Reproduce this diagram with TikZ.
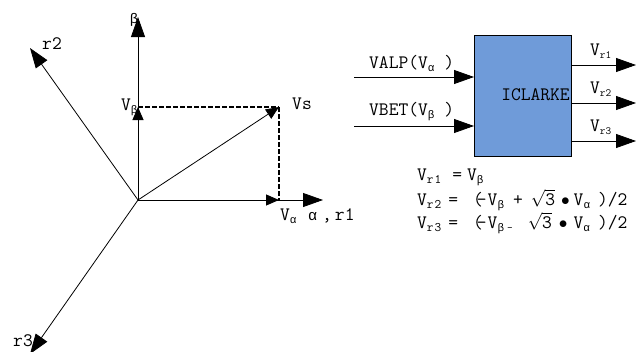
\documentclass[tikz,border=0pt]{standalone}
\usepackage{amsmath}
\usepackage{amssymb}
\usepackage{fontspec}
\newfontfamily\grkfont{Liberation Mono}
\usetikzlibrary{arrows.meta}
\definecolor{blockblue}{HTML}{6F9BD9}
\newcommand{\low}[1]{\raisebox{-3pt}{\fontsize{11}{11}\selectfont #1}}
\newcommand{\lowr}[1]{\raisebox{-3pt}{\fontsize{13}{13}\selectfont r\hspace{1pt}#1}}
\newcommand{\lowa}{\low{\grkfont α}}
\newcommand{\lowb}{\low{\grkfont β}}
\newcommand{\rootthree}{$\sqrt{\text{3}}$}
\tikzset{
  bigtip/.style={-{Triangle[length=20pt,width=14pt]},line width=.8pt},
  smalltip/.style={-{Triangle[length=13pt,width=11pt]},line width=1pt},
  dashline/.style={dash pattern=on 5pt off 2pt,line width=1.3pt},
  txt/.style={font=\ttfamily\fontsize{19}{19}\selectfont,inner sep=0pt},
}
\begin{document}
\begin{tikzpicture}[x=1pt,y=-1pt]
        \useasboundingbox (0,0) rectangle (636,351);
        \clip (0,0) rectangle (636,351);
        \coordinate (o) at (138,200);
        \coordinate (b) at (138,17);
        \coordinate (r2) at (30,48);
        \coordinate (r3) at (30,354);
        \coordinate (a) at (323,200);
        \coordinate (vs) at (279,107);
        \coordinate (vb) at (138,107);
        \coordinate (va) at (279,200);
        \node[txt] (lb) at (134,20) {\grkfont\fontsize{14}{14}\selectfont β};
        \node[txt] (lr2) at (52,44) {r2};
        \node[txt] (lr3) at (23,341) {r3};
        \node[txt] (lvs) at (302,104) {Vs};
        \node[txt,anchor=west] (lvb) at (121,107) {V\lowb};
        \node[txt,anchor=west] (lva) at (280,216) {V\lowa};
        \node[txt,anchor=west] (la) at (308,216) {{\grkfont\fontsize{15}{15}\selectfont α}\hspace{5pt},\hspace{3pt}r1};
        \draw[bigtip] (o) -- (b);
        \draw[bigtip] (o) -- (r2);
        \draw[bigtip] (o) -- (r3);
        \draw[bigtip] (o) -- (a);
        \draw[smalltip] (o) -- (vb);
        \draw[smalltip] (o) -- (va);
        \draw[smalltip,line width=.8pt] (o) -- (vs);
        \draw[dashline] (vb) -- (vs);
        \draw[dashline] (vs) -- (va);

        \node[draw,fill=blockblue,line width=.8pt,minimum width=97pt,minimum height=121pt,inner sep=0pt] (clarke) at (522.5,95.5) {};
        \node[txt] (lclarke) at (535.5,95) {ICLARKE};
        \coordinate (i1) at (354,77);
        \coordinate (i2) at (354,126);
        \coordinate (c1) at (474,77);
        \coordinate (c2) at (474,126);
        \coordinate (s1) at (571,65);
        \coordinate (s2) at (571,103);
        \coordinate (s3) at (571,141);
        \coordinate (e1) at (636,65);
        \coordinate (e2) at (636,103);
        \coordinate (e3) at (636,141);
        \draw[bigtip] (i1) -- (c1);
        \draw[bigtip] (i2) -- (c2);
        \draw[bigtip] (s1) -- (e1);
        \draw[bigtip] (s2) -- (e2);
        \draw[bigtip] (s3) -- (e3);
        \node[txt,anchor=west] (lalp) at (369,63) {VALP(V\lowa\ )};
        \node[txt,anchor=west] (lbet) at (369,112) {VBET(V\lowb\ )};
        \node[txt,anchor=west] (lr1) at (590,51) {V\low{r1}};
        \node[txt,anchor=west] (lr22) at (590,89) {V\low{r2}};
        \node[txt,anchor=west] (lr33) at (590,127) {V\low{r3}};
        \node[txt,anchor=west] (eq1) at (417,177) {V\lowr{1}\hspace{11pt}=\hspace{5pt}V\lowb};
        \node[txt,anchor=west] (eq2) at (417,200) {V\lowr{2}\hspace{7pt}=\hspace{15pt}(\hspace{-6pt}-\hspace{1pt}V\lowb\hspace{9pt}+\hspace{8pt}\rootthree\hspace{6pt}$\bullet$\hspace{4pt}V\lowa\hspace{8pt})/2};
        \node[txt,anchor=west] (eq3) at (417,223) {V\lowr{3}\hspace{7pt}=\hspace{15pt}(\hspace{-6pt}-\hspace{1pt}V\lowb\hspace{3pt}\low{-}\hspace{15pt}\rootthree\hspace{7pt}$\bullet$\hspace{6pt}V\lowa\hspace{8pt})/2};
\end{tikzpicture}
\end{document}
